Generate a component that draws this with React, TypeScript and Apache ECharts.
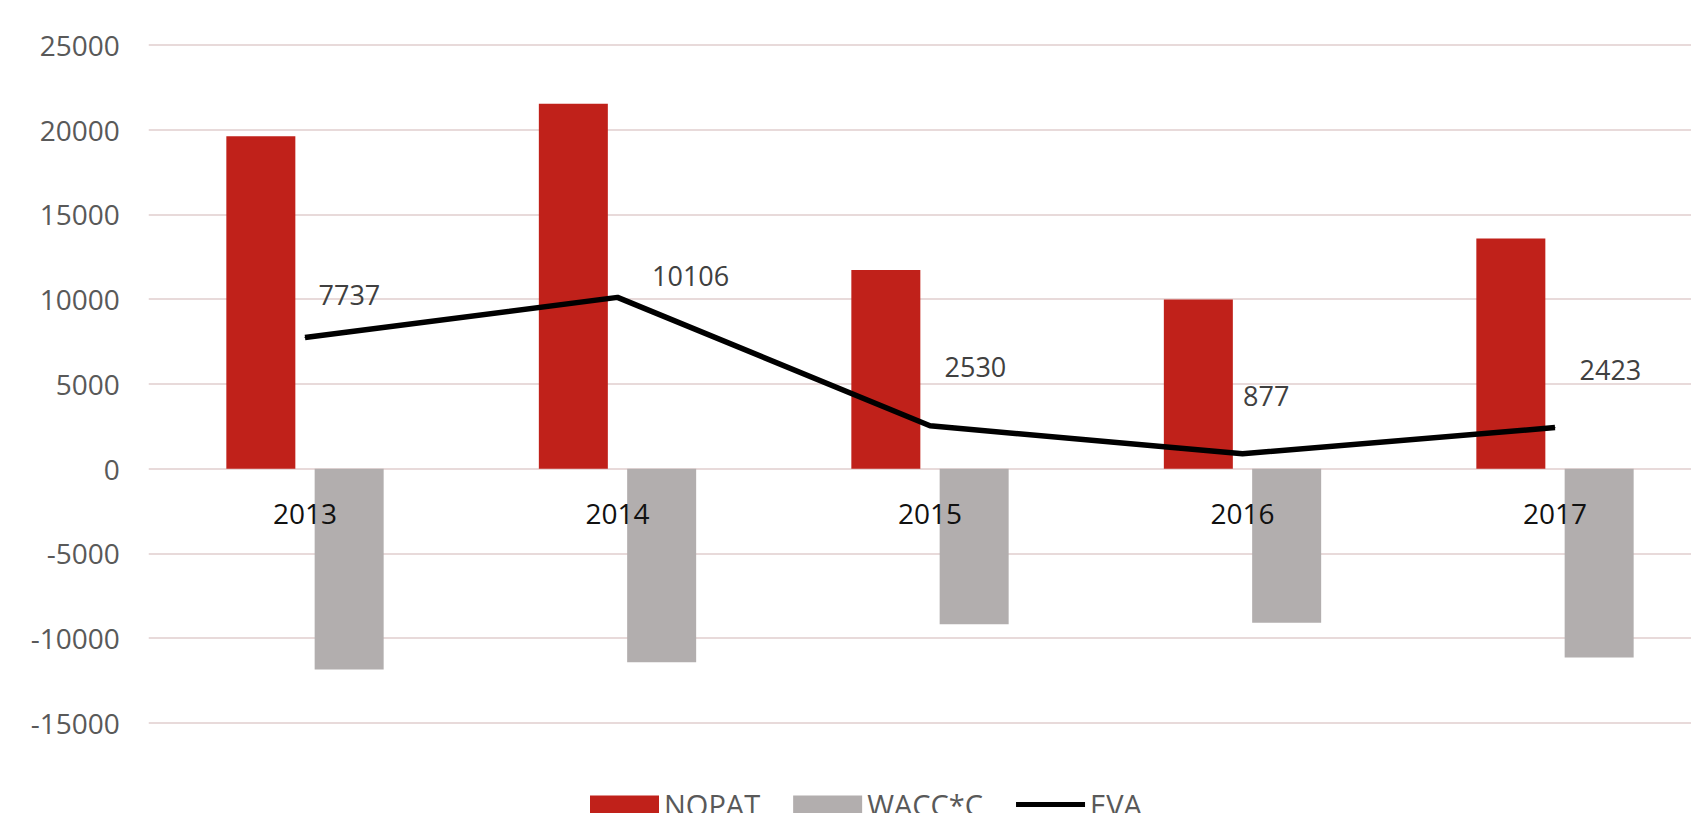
import React, { useEffect, useRef } from "react";
import * as echarts from "echarts";

const categories = ["2013", "2014", "2015", "2016", "2017"];
const nopat = [19620, 21530, 11720, 9980, 13580];
const waccC = [-11860, -11420, -9190, -9100, -11150];
const eva = [7737, 10106, 2530, 877, 2423];
const seriesNames = ["NOPAT", "WACC*C", "EVA"];

// label offsets for EVA data labels (layout only)
const evaLabelOffsets: [number, number][] = [
  [13, -43],
  [34, -22],
  [14, -59],
  [0, -58],
  [24, -58],
];

const FONT = "'Open Sans', 'Noto Sans', sans-serif";
const CHART_W = 1720;
const GRID_TOP = 45;
const GRID_BOTTOM_Y = 722.8;
const ZERO_Y = GRID_TOP + (25000 / 40000) * (GRID_BOTTOM_Y - GRID_TOP);

export default function App() {
  const ref = useRef<HTMLDivElement>(null);
  useEffect(() => {
    if (!ref.current) return;
    const chart = echarts.init(ref.current, undefined, { renderer: "svg" });
    chart.setOption({
      animation: false,
      backgroundColor: "#ffffff",
      textStyle: { fontFamily: FONT },
      grid: {
        left: 148.75,
        right: CHART_W - 1711.25,
        top: GRID_TOP,
        bottom: 813 - GRID_BOTTOM_Y,
        containLabel: false,
      },
      legend: {
        left: 585,
        top: 785,
        itemWidth: 69,
        itemHeight: 18,
        itemGap: 33,
        textStyle: { fontFamily: FONT, fontSize: 29, color: "#595959" },
        data: [
          { name: seriesNames[0], icon: "rect" },
          { name: seriesNames[1], icon: "rect" },
          { name: seriesNames[2], icon: "path://M0,0H100V7H0Z" },
        ],
      },
      xAxis: {
        type: "category",
        data: categories,
        offset: -(GRID_BOTTOM_Y - ZERO_Y),
        z: 10,
        axisLine: { show: false, onZero: false },
        axisTick: { show: false },
        axisLabel: { color: "#111111", fontSize: 28, fontFamily: FONT, margin: 30 },
        splitLine: { show: false },
      },
      yAxis: {
        type: "value",
        min: -15000,
        max: 25000,
        interval: 5000,
        axisLine: { show: false },
        axisTick: { show: false },
        axisLabel: {
          color: "#595959",
          fontSize: 28,
          fontFamily: FONT,
          margin: 29,
          formatter: (v: number) => String(v),
        },
        splitLine: { show: true, lineStyle: { color: "#e8dada", width: 2 } },
      },
      series: [
        {
          name: seriesNames[0],
          type: "bar",
          data: nopat,
          barWidth: 69,
          barGap: "28%",
          itemStyle: { color: "#c0211a" },
        },
        {
          name: seriesNames[1],
          type: "bar",
          data: waccC,
          barWidth: 69,
          barGap: "28%",
          itemStyle: { color: "#b2aeae" },
        },
        {
          name: seriesNames[2],
          type: "line",
          data: eva.map((v, i) => ({
            value: v,
            label: { offset: evaLabelOffsets[i] },
          })),
          symbol: "circle",
          symbolSize: 1,
          showSymbol: true,
          itemStyle: { color: "#000000" },
          lineStyle: { color: "#000000", width: 5.5 },
          z: 5,
          label: {
            show: true,
            position: "right",
            distance: 0,
            color: "#404040",
            fontSize: 27,
            fontFamily: FONT,
          },
        },
      ],
    });
    return () => chart.dispose();
  }, []);
  return (
    <div
      style={{
        position: "fixed",
        left: 0,
        top: 0,
        width: 1691,
        height: 813,
        overflow: "hidden",
        background: "#fff",
      }}
    >
      <div ref={ref} style={{ width: CHART_W, height: 813 }} />
    </div>
  );
}
